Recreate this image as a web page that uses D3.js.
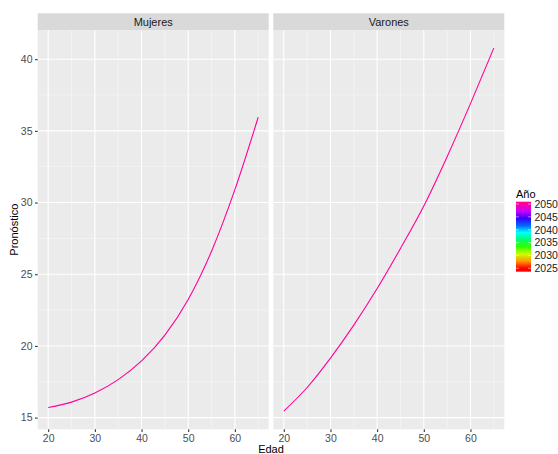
<!DOCTYPE html>
<html>
<head>
<meta charset="utf-8">
<script src="https://cdn.jsdelivr.net/npm/d3@7"></script>
<style>
    body { margin: 0; background: #fff; }
    text { font-family: "Liberation Sans", Arial, sans-serif; }
</style>
</head>
<body>
<div id="chart"></div>
<script>
// data
var edades = [20, 25, 30, 35, 40, 45, 50, 55, 60, 65]
var mujeres = [15.70, 16.08, 16.72, 17.65, 18.95, 20.75, 23.24, 26.6, 30.9, 35.95]
var varones = [15.45, 17.1, 19.15, 21.45, 24.0, 26.8, 29.76, 33.2, 36.9, 40.77]
var paneles = ["Mujeres", "Varones"]
var anioLinea = 2050

var xTicks = [20, 30, 40, 50, 60]
var xMinor = [25, 35, 45, 55, 65]
var yTicks = [15, 20, 25, 30, 35, 40]
var yMinor = [17.5, 22.5, 27.5, 32.5, 37.5]

var legendYears = [2025, 2030, 2035, 2040, 2045, 2050]
var rainbow10 = ["#FF0000", "#FF9900", "#CCFF00", "#33FF00", "#00FF66",
                 "#00FFFF", "#0066FF", "#3300FF", "#CC00FF", "#FF0099"]

var W = 558, H = 454
var plotTop = 30, plotBottom = 429.3   // "top" is taken by window.top
var panelX = [[37.7, 268.7], [273.3, 504.3]]

var svg = d3.select("#chart").append("svg")
    .attr("width", W)
    .attr("height", H)

// same y for both facets (ggplot expands 5%)
var allY = mujeres.concat(varones)
var yMin = d3.min(allY), yMax = d3.max(allY), pad = (yMax - yMin) * 0.05
var y = d3.scaleLinear().domain([yMin - pad, yMax + pad]).range([plotBottom, plotTop])

var xPad = (65 - 20) * 0.05

// colour scale for year
var nCol = rainbow10.length
function stopYear(k) { return 2025 + k * 25 / (nCol - 1) }
var colorScale = d3.scaleLinear()
    .domain(d3.range(nCol).map(stopYear))
    .range(rainbow10)

var series = [mujeres, varones]

paneles.forEach(function(nombre, i) {

    var x = d3.scaleLinear()
        .domain([20 - xPad, 65 + xPad])
        .range(panelX[i])

    var g = svg.append("g")

    g.append("rect")
        .attr("x", panelX[i][0]).attr("y", plotTop)
        .attr("width", panelX[i][1] - panelX[i][0])
        .attr("height", plotBottom - plotTop)
        .attr("fill", "#ebebeb")

    // minor grid
    g.selectAll(".ymin").data(yMinor).enter().append("line")
        .attr("x1", panelX[i][0]).attr("x2", panelX[i][1])
        .attr("y1", function(d) { return y(d) }).attr("y2", function(d) { return y(d) })
        .attr("stroke", "#fff").attr("stroke-width", 0.55).attr("opacity", 0.75)
    g.selectAll(".xmin").data(xMinor).enter().append("line")
        .attr("y1", plotTop).attr("y2", plotBottom)
        .attr("x1", function(d) { return x(d) }).attr("x2", function(d) { return x(d) })
        .attr("stroke", "#fff").attr("stroke-width", 0.55).attr("opacity", 0.75)

    // major grid
    g.selectAll(".ymaj").data(yTicks).enter().append("line")
        .attr("x1", panelX[i][0]).attr("x2", panelX[i][1])
        .attr("y1", function(d) { return y(d) }).attr("y2", function(d) { return y(d) })
        .attr("stroke", "#fff").attr("stroke-width", 1.07)
    g.selectAll(".xmaj").data(xTicks).enter().append("line")
        .attr("y1", plotTop).attr("y2", plotBottom)
        .attr("x1", function(d) { return x(d) }).attr("x2", function(d) { return x(d) })
        .attr("stroke", "#fff").attr("stroke-width", 1.07)

    // strip
    g.append("rect")
        .attr("x", panelX[i][0]).attr("y", 13.3)
        .attr("width", panelX[i][1] - panelX[i][0])
        .attr("height", plotTop - 13.3)
        .attr("fill", "#d9d9d9")
    g.append("text")
        .attr("x", (panelX[i][0] + panelX[i][1]) / 2)
        .attr("y", 25.5)
        .attr("text-anchor", "middle")
        .attr("font-size", 11)
        .attr("fill", "#1a1a1a")
        .text(nombre)

    // line
    var line = d3.line()
        .x(function(d, k) { return x(edades[k]) })
        .y(function(d) { return y(d) })
        .curve(d3.curveMonotoneX)

    g.append("path")
        .datum(series[i])
        .attr("d", line)
        .attr("fill", "none")
        .attr("stroke", colorScale(anioLinea))
        .attr("stroke-width", 1.1)

    // x axis
    var xAxis = d3.axisBottom(x).tickValues(xTicks).tickSize(2.7).tickPadding(2.5)
    var ax = g.append("g")
        .attr("transform", "translate(0," + plotBottom + ")")
        .call(xAxis)
    ax.select(".domain").remove()
    ax.selectAll("line").attr("stroke", "#333").attr("stroke-width", 1.07)
    ax.selectAll("text").attr("fill", "#4d4d4d").attr("font-size", 10.5)
        .attr("font-family", "Liberation Sans, Arial, sans-serif")

    if (i == 0) {
        var yAxis = d3.axisLeft(y).tickValues(yTicks).tickSize(2.7).tickPadding(2.5)
        var ay = g.append("g")
            .attr("transform", "translate(" + panelX[i][0] + ",0)")
            .call(yAxis)
        ay.select(".domain").remove()
        ay.selectAll("line").attr("stroke", "#333").attr("stroke-width", 1.07)
        ay.selectAll("text").attr("fill", "#4d4d4d").attr("font-size", 10.5)
            .attr("font-family", "Liberation Sans, Arial, sans-serif")
    }
})

// axis titles
svg.append("text")
    .attr("x", (panelX[0][0] + panelX[1][1]) / 2)
    .attr("y", 453)
    .attr("text-anchor", "middle")
    .attr("font-size", 11)
    .attr("fill", "#000")
    .text("Edad")

svg.append("text")
    .attr("transform", "translate(17.5," + ((plotTop + plotBottom) / 2) + ") rotate(-90)")
    .attr("text-anchor", "middle")
    .attr("font-size", 11)
    .attr("fill", "#000")
    .text("Pronóstico")

// legend colourbar
var ly = d3.scaleLinear().domain([2025, 2050]).range([268.3, 204])
var barTop = 201.7, barBottom = 271.7, barX = 516, barW = 15

var grad = svg.append("defs").append("linearGradient")
    .attr("id", "rb")
    .attr("x1", 0).attr("y1", 1).attr("x2", 0).attr("y2", 0)
grad.selectAll("stop").data(rainbow10).enter().append("stop")
    .attr("offset", function(d, k) {
        return ((barBottom - ly(stopYear(k))) / (barBottom - barTop) * 100) + "%"
    })
    .attr("stop-color", function(d) { return d })

svg.append("rect")
    .attr("x", barX).attr("y", barTop)
    .attr("width", barW).attr("height", barBottom - barTop)
    .attr("fill", "url(#rb)")

svg.append("text")
    .attr("x", 516).attr("y", 198)
    .attr("font-size", 11)
    .attr("fill", "#000")
    .text("Año")

var legAxis = d3.axisRight(ly).tickValues(legendYears).tickFormat(d3.format("d")).tickSize(0).tickPadding(3.5)
var lg = svg.append("g")
    .attr("transform", "translate(" + (barX + barW) + ",0)")
    .call(legAxis)
lg.select(".domain").remove()
lg.selectAll("text").attr("fill", "#1a1a1a").attr("font-size", 10.5)
    .attr("font-family", "Liberation Sans, Arial, sans-serif")

// white ticks on the bar
svg.selectAll(".lt").data(legendYears).enter().append("line")
    .attr("x1", barX).attr("x2", barX + 3)
    .attr("y1", function(d) { return ly(d) }).attr("y2", function(d) { return ly(d) })
    .attr("stroke", "#fff").attr("stroke-width", 0.5)
svg.selectAll(".rt").data(legendYears).enter().append("line")
    .attr("x1", barX + barW - 3).attr("x2", barX + barW)
    .attr("y1", function(d) { return ly(d) }).attr("y2", function(d) { return ly(d) })
    .attr("stroke", "#fff").attr("stroke-width", 0.5)
</script>
</body>
</html>
